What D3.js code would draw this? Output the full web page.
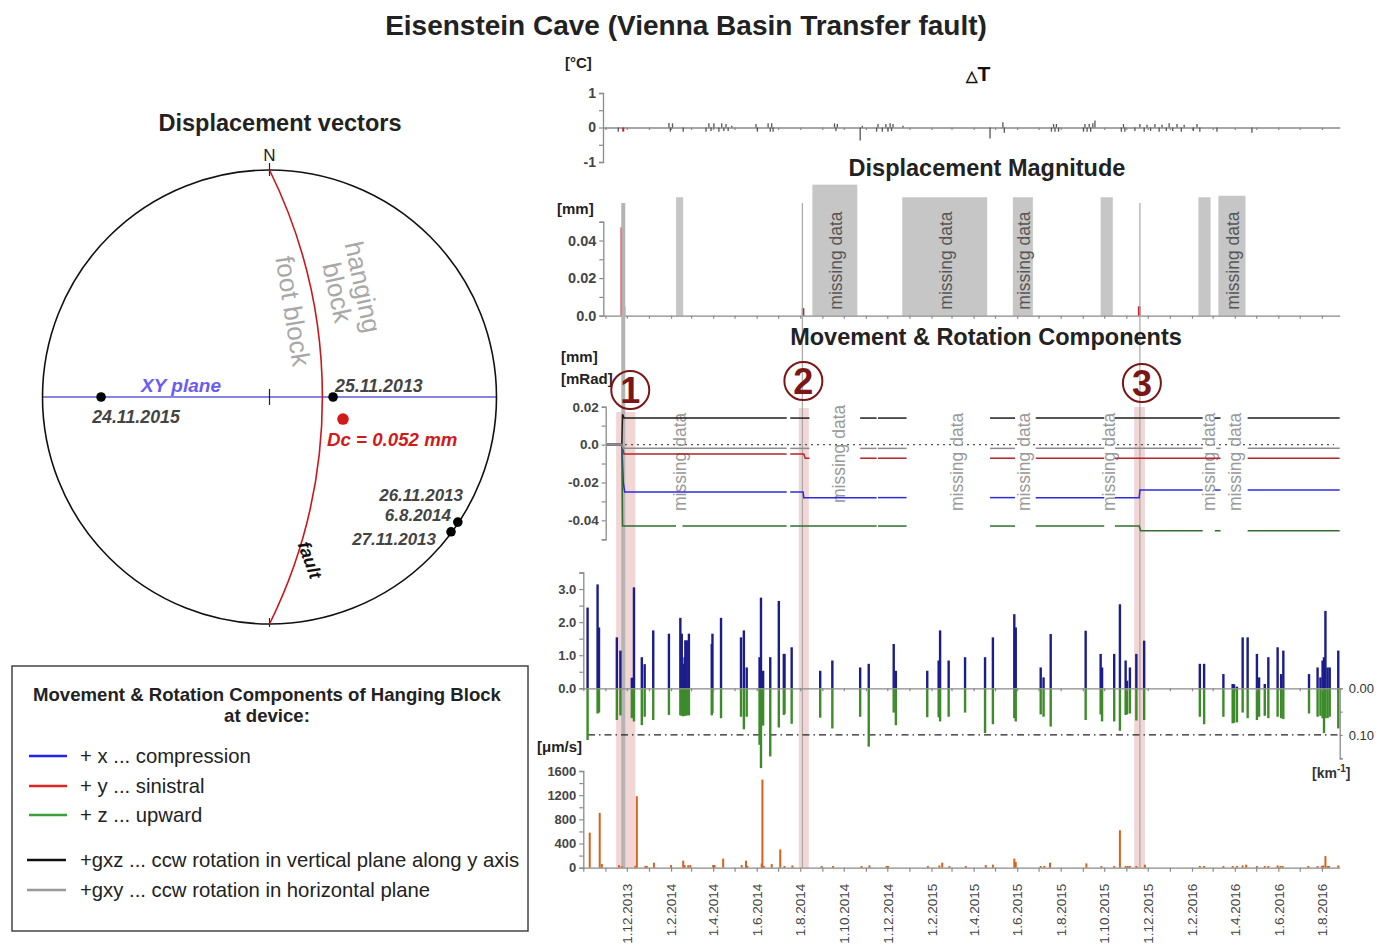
<!DOCTYPE html>
<html><head><meta charset="utf-8">
<script src="https://cdn.jsdelivr.net/npm/d3@7"></script>
<style>body{margin:0;background:#fff}svg{display:block}text{font-family:"Liberation Sans",Arial,Helvetica,sans-serif}</style>
</head><body><svg id="c" width="1384" height="945"></svg>
<script>
// ---------------- DATA ----------------
const timeDomain = ["2013-10-01", "2016-08-26"];

// Temperature change spikes (deg C)
const dtDates = ["2013-11-19","2014-01-29","2014-01-31","2014-02-03","2014-02-18","2014-03-22","2014-03-26","2014-03-29","2014-04-02","2014-04-09","2014-04-13","2014-04-16","2014-04-19","2014-04-22","2014-04-27","2014-05-31","2014-06-02","2014-06-17","2014-06-20","2014-06-22","2014-06-24","2014-09-18","2014-09-20","2014-09-22","2014-10-24","2014-10-27","2014-11-16","2014-11-18","2014-11-24","2014-11-29","2014-12-02","2014-12-05","2014-12-07","2014-12-09","2014-12-23","2015-04-24","2015-05-12","2015-05-14","2015-07-19","2015-07-22","2015-07-24","2015-07-26","2015-07-29","2015-09-02","2015-09-04","2015-09-07","2015-09-10","2015-09-12","2015-09-15","2015-09-18","2015-10-25","2015-10-28","2015-10-30","2015-11-13","2015-11-20","2015-11-26","2015-11-30","2015-12-05","2015-12-11","2015-12-17","2015-12-21","2015-12-27","2015-12-31","2016-01-05","2016-01-11","2016-01-17","2016-01-21","2016-02-03","2016-02-08","2016-02-12","2016-03-07","2016-04-25"];
const dtValues = [-0.12,0.13,-0.12,0.12,-0.12,-0.12,0.12,-0.1,0.12,-0.12,0.12,-0.1,0.1,-0.1,0.05,0.1,-0.12,0.12,-0.12,0.12,-0.12,0.12,-0.1,0.1,-0.38,0.05,-0.12,0.1,-0.12,0.1,-0.12,0.12,-0.1,0.1,0.05,-0.32,0.15,-0.15,-0.12,0.1,-0.12,0.1,-0.12,-0.12,0.1,-0.12,0.1,-0.12,0.12,0.2,-0.12,0.1,-0.12,-0.1,0.1,-0.12,0.08,-0.1,0.1,-0.12,0.08,-0.1,0.12,-0.1,0.1,-0.12,0.08,-0.1,0.1,-0.12,-0.12,-0.15];
const dtRedDates = ["2013-11-26"];
const dtRedValues = [-0.12];

// Displacement magnitude (mm)
const dispDates = ["2013-11-24","2013-11-27","2014-08-05","2015-11-19"];
const dispValues = [0.047, 0.005, 0.004, 0.005];

// Missing data intervals
const gapStart = ["2014-02-08","2014-08-18","2014-12-22","2015-05-26","2015-09-26","2016-02-10","2016-03-09"];
const gapEnd   = ["2014-02-18","2014-10-20","2015-04-20","2015-06-23","2015-10-13","2016-02-27","2016-04-16"];
const gapTop   = [0.063, 0.0697, 0.063, 0.063, 0.063, 0.063, 0.0638];
const gapLabelled = [false, true, true, true, false, false, true];
const movementGapLabelDates = ["2014-02-13","2014-09-24","2015-03-08","2015-06-11","2015-10-08","2016-02-24","2016-04-01"];

// Events
const eventDates = ["2013-11-26","2014-08-04","2015-11-20"];
const eventBandStart = ["2013-11-16","2014-07-30","2015-11-12"];
const eventBandEnd = ["2013-12-13","2014-08-13","2015-11-27"];
const eventLabels = ["1","2","3"];

// Movement & rotation components (mm / mRad), segments between gaps
const seriesGxz = [
  [["2013-11-03",0],["2013-11-24",0],["2013-11-25",0.016],["2013-11-27",0.014],["2014-07-13",0.014]],
  [["2014-07-18",0.014],["2014-08-14",0.014]],
  [["2014-10-24",0.014],["2014-11-16",0.014]],
  [["2014-11-18",0.014],["2014-12-28",0.014]],
  [["2015-04-24",0.014],["2015-05-29",0.014]],
  [["2015-06-27",0.014],["2015-10-01",0.014]],
  [["2015-10-16",0.014],["2016-02-16",0.014]],
  [["2016-03-04",0.014],["2016-03-12",0.014]],
  [["2016-04-19",0.014],["2016-08-26",0.014]]
];
const seriesGxy = [
  [["2013-11-03",0],["2013-11-24",0],["2013-11-26",-0.002],["2014-07-13",-0.002]],
  [["2014-07-18",-0.002],["2014-08-14",-0.002]],
  [["2014-10-24",-0.002],["2014-11-16",-0.002]],
  [["2014-11-18",-0.002],["2014-12-28",-0.002]],
  [["2015-04-24",-0.002],["2015-05-29",-0.002]],
  [["2015-06-27",-0.002],["2015-10-01",-0.002]],
  [["2015-10-16",-0.002],["2016-02-16",-0.002]],
  [["2016-03-06",-0.002],["2016-03-12",-0.002]],
  [["2016-04-19",-0.002],["2016-08-26",-0.002]]
];
const seriesY = [
  [["2013-11-03",0],["2013-11-24",0],["2013-11-27",-0.005],["2014-07-13",-0.005]],
  [["2014-07-18",-0.005],["2014-08-06",-0.005],["2014-08-08",-0.0072],["2014-08-14",-0.0072]],
  [["2014-10-24",-0.0072],["2014-11-16",-0.0072]],
  [["2014-11-18",-0.0072],["2014-12-28",-0.0072]],
  [["2015-04-24",-0.0072],["2015-05-29",-0.0072]],
  [["2015-06-27",-0.0072],["2015-10-01",-0.0072]],
  [["2015-10-16",-0.0072],["2016-03-12",-0.0072]],
  [["2016-04-19",-0.0072],["2016-08-26",-0.0072]]
];
const seriesX = [
  [["2013-11-03",0],["2013-11-24",0],["2013-11-26",-0.02],["2013-11-28",-0.025],["2014-07-13",-0.025]],
  [["2014-07-18",-0.025],["2014-08-05",-0.025],["2014-08-06",-0.028],["2014-11-16",-0.028]],
  [["2014-11-18",-0.028],["2014-12-28",-0.028]],
  [["2015-04-24",-0.028],["2015-05-29",-0.028]],
  [["2015-06-27",-0.028],["2015-10-01",-0.028]],
  [["2015-10-16",-0.028],["2015-11-19",-0.028],["2015-11-20",-0.024],["2016-02-16",-0.024]],
  [["2016-03-04",-0.024],["2016-03-12",-0.024]],
  [["2016-04-19",-0.024],["2016-08-26",-0.024]]
];
const seriesZ = [
  [["2013-11-03",0],["2013-11-24",0],["2013-11-25",-0.043],["2014-02-08",-0.043]],
  [["2014-02-17",-0.043],["2014-07-13",-0.043]],
  [["2014-07-18",-0.043],["2014-11-16",-0.043]],
  [["2014-11-18",-0.043],["2014-12-28",-0.043]],
  [["2015-04-24",-0.043],["2015-05-29",-0.043]],
  [["2015-06-27",-0.043],["2015-10-01",-0.043]],
  [["2015-10-16",-0.043],["2015-11-19",-0.043],["2015-11-21",-0.0455],["2016-02-16",-0.0455]],
  [["2016-03-04",-0.0455],["2016-03-12",-0.0455]],
  [["2016-04-19",-0.0455],["2016-08-26",-0.0455]]
];

// Earthquakes: magnitude (up) and inverse distance km^-1 (down)
const eqDates = ["2013-10-07","2013-10-21","2013-10-23","2013-11-17","2013-11-22","2013-12-08","2013-12-11","2013-12-22","2013-12-26","2014-01-07","2014-01-29","2014-02-14","2014-02-16","2014-02-18","2014-02-20","2014-02-21","2014-02-23","2014-02-26","2014-03-30","2014-03-31","2014-04-12","2014-05-10","2014-05-14","2014-05-18","2014-06-05","2014-06-07","2014-06-10","2014-06-20","2014-07-02","2014-07-09","2014-07-10","2014-07-20","2014-08-29","2014-09-15","2014-10-24","2014-11-05","2014-12-10","2014-12-13","2015-01-26","2015-02-11","2015-02-13","2015-02-25","2015-03-20","2015-04-17","2015-04-28","2015-05-28","2015-05-30","2015-07-04","2015-07-08","2015-07-18","2015-09-05","2015-09-26","2015-09-28","2015-10-15","2015-10-23","2015-10-31","2015-11-02","2015-11-06","2015-11-15","2015-11-26","2016-02-12","2016-02-18","2016-03-16","2016-03-29","2016-03-31","2016-04-04","2016-04-12","2016-04-19","2016-05-02","2016-05-05","2016-05-13","2016-05-18","2016-05-31","2016-06-05","2016-06-08","2016-07-14","2016-07-26","2016-07-30","2016-08-02","2016-08-04","2016-08-06","2016-08-09","2016-08-12","2016-08-24"];
const eqMagnitude = [2.44,3.14,1.84,1.54,1.14,0.32,3.05,0.94,0.73,1.75,1.65,2.13,1.65,0.74,0.94,1.45,1.45,1.65,1.34,1.65,2.13,1.54,1.75,0.63,0.94,2.74,0.53,0.94,2.64,1.04,1.04,1.24,0.53,0.84,0.63,0.74,1.34,0.53,0.53,0.84,1.75,0.84,0.94,0.94,1.54,2.24,1.84,0.63,0.33,1.64,1.74,1.04,0.63,1.04,2.54,0.84,0.23,0.63,1.04,1.44,0.74,0.74,0.43,0.13,0.12,0.05,1.54,1.54,1.04,0.33,0.13,0.94,1.24,0.43,1.14,0.43,0.63,0.33,0.84,0.94,2.34,0.63,0.63,1.14];
const eqInvDistance = [0.111,0.054,0.052,0.068,0.058,0.064,0.071,0.079,0.061,0.068,0.057,0.058,0.059,0.060,0.058,0.059,0.058,0.058,0.058,0.053,0.064,0.061,0.088,0.061,0.121,0.171,0.080,0.146,0.084,0.057,0.055,0.076,0.063,0.086,0.061,0.125,0.052,0.079,0.062,0.062,0.071,0.061,0.052,0.096,0.077,0.064,0.071,0.056,0.061,0.082,0.068,0.056,0.071,0.071,0.091,0.057,0.056,0.054,0.069,0.068,0.061,0.077,0.061,0.075,0.074,0.073,0.052,0.064,0.068,0.061,0.059,0.064,0.061,0.064,0.066,0.054,0.061,0.059,0.064,0.096,0.064,0.064,0.061,0.086];

// Ground velocity (um/s)
const velDates = ["2013-10-10","2013-10-24","2013-10-27","2013-11-20","2013-11-24","2013-12-13","2013-12-15","2013-12-27","2013-12-29","2014-01-08","2014-02-01","2014-02-18","2014-02-20","2014-02-25","2014-02-28","2014-04-01","2014-04-03","2014-04-15","2014-05-11","2014-05-17","2014-05-19","2014-06-08","2014-06-09","2014-06-11","2014-06-22","2014-07-04","2014-07-10","2014-07-21","2014-08-31","2014-09-16","2014-10-26","2014-11-06","2014-11-30","2014-12-02","2015-01-27","2015-02-12","2015-02-16","2015-02-26","2015-03-21","2015-04-18","2015-04-28","2015-05-28","2015-05-30","2015-07-04","2015-07-09","2015-07-17","2015-09-06","2015-09-27","2015-10-15","2015-10-23","2015-10-31","2015-11-03","2015-11-06","2015-11-15","2015-11-27","2016-02-12","2016-02-18","2016-03-16","2016-03-29","2016-04-04","2016-04-12","2016-04-17","2016-05-02","2016-05-13","2016-05-18","2016-05-31","2016-06-04","2016-06-07","2016-07-13","2016-07-26","2016-08-01","2016-08-03","2016-08-06","2016-08-09","2016-08-11","2016-08-24"];
const velValues = [580,908,60,44,25,30,1183,30,30,83,44,116,44,40,44,44,44,150,44,116,28,70,1458,28,60,303,28,38,28,28,28,38,28,28,28,38,83,28,28,44,50,150,94,28,28,83,72,28,28,620,28,28,28,28,50,28,28,28,28,28,38,50,28,28,28,38,28,28,28,28,28,38,192,28,28,38];

// Stereonet (azimuth deg, projected radius fraction)
const stereoLabels = ["24.11.2015","25.11.2013","26.11.2013 / 6.8.2014","27.11.2013"];
const stereoAzimuth = [270, 90, 123.6, 126.6];
const stereoRadius = [0.742, 0.28, 0.996, 0.996];
const dcAzimuth = 106.7, dcRadius = 0.338, dcValue = "0.052";
const faultBulge = 0.233;

// Legend
const legendLabels = ["+ x ... compression","+ y ... sinistral","+ z ... upward","+gxz ... ccw rotation in vertical plane along y axis","+gxy ... ccw rotation in horizontal plane"];
const legendColors = ["#2323f0","#e02424","#3aa03a","#111111","#999999"];

// ---------------- DRAW ----------------
const P = d3.timeParse("%Y-%m-%d");
const svg = d3.select("#c");
const FONT = '"Liberation Sans",Arial,Helvetica,sans-serif';
const x = d3.scaleTime().domain(timeDomain.map(P)).range([583.3, 1339.7]);
const xEnd = x.range()[1];
const xFrom = px => x.copy().domain([x.invert(px), x.domain()[1]]).range([px, xEnd]);

const yT = d3.scaleLinear().domain([-1, 1]).range([162, 93]);
const yD = d3.scaleLinear().domain([0, 0.05]).range([315.7, 221.7]);
const yM = d3.scaleLinear().domain([-0.05, 0.02]).range([539.3, 406.7]);
const yE = d3.scaleLinear().domain([0, 3.5]).range([688.3, 572.5]);
const yI = d3.scaleLinear().domain([0, 0.15]).range([688.3, 758.3]);
const yV = d3.scaleLinear().domain([0, 1600]).range([867.7, 771]);

const minus = s => s.replace("\u2212", "-");

function styleAxis(g, size, weight, color) {
  g.select(".domain").attr("stroke", "#8a8a8a").attr("stroke-width", 1.3);
  g.selectAll(".tick line").attr("stroke", "#8a8a8a").attr("stroke-width", 1.2);
  g.selectAll(".tick text").attr("font-family", FONT).attr("font-size", size)
    .attr("font-weight", weight || "bold").attr("fill", color || "#454545");
}

// Titles
svg.append("text").attr("x", 686).attr("y", 35).attr("text-anchor", "middle")
  .attr("font-size", 28).attr("font-weight", "bold").attr("fill", "#222")
  .text("Eisenstein Cave (Vienna Basin Transfer fault)");

// ----- Delta T panel -----
svg.append("text").attr("x", 565).attr("y", 68).attr("font-size", 15).attr("font-weight", "bold").attr("fill", "#222").text("[°C]");
const dtT = svg.append("text").attr("x", 978).attr("y", 81).attr("text-anchor", "middle").attr("font-weight", "bold").attr("fill", "#111");
dtT.append("tspan").attr("font-size", 15).text("△");
dtT.append("tspan").attr("font-size", 21).text("T");

const gT = svg.append("g");
gT.append("g").attr("transform", `translate(0,${yT(0)})`)
  .call(d3.axisBottom(xFrom(603)).ticks(d3.timeMonth.every(1)).tickSize(2.5).tickSizeOuter(0).tickFormat(""))
  .call(g => styleAxis(g, 12));
gT.selectAll("line.dt").data(dtDates).join("line").attr("class", "dt")
  .attr("x1", d => x(P(d))).attr("x2", d => x(P(d)))
  .attr("y1", yT(0)).attr("y2", (d, i) => yT(dtValues[i]))
  .attr("stroke", "#555").attr("stroke-width", 1.3);
gT.selectAll("line.dtr").data(dtRedDates).join("line").attr("class", "dtr")
  .attr("x1", d => x(P(d))).attr("x2", d => x(P(d)))
  .attr("y1", yT(0)).attr("y2", (d, i) => yT(dtRedValues[i]))
  .attr("stroke", "#d42020").attr("stroke-width", 2);
gT.append("g").attr("transform", "translate(603,0)")
  .call(d3.axisLeft(yT).tickValues([-1, -0.5, 0, 0.5, 1]).tickSize(4)
    .tickFormat(d => Number.isInteger(d) ? minus(d3.format("d")(d)) : ""))
  .call(g => styleAxis(g, 14));

// ----- Displacement magnitude panel -----
svg.append("text").attr("x", 987).attr("y", 176).attr("text-anchor", "middle")
  .attr("font-size", 23.5).attr("font-weight", "bold").attr("fill", "#222").text("Displacement Magnitude");
svg.append("text").attr("x", 557).attr("y", 214).attr("font-size", 15).attr("font-weight", "bold").attr("fill", "#222").text("[mm]");

const gD = svg.append("g");
gD.selectAll("rect.gap").data(gapStart).join("rect").attr("class", "gap")
  .attr("x", d => x(P(d))).attr("width", (d, i) => x(P(gapEnd[i])) - x(P(d)))
  .attr("y", (d, i) => yD(gapTop[i])).attr("height", (d, i) => yD(0) - yD(gapTop[i]))
  .attr("fill", "#c6c6c6");
gD.selectAll("text.gap").data(gapStart.filter((d, i) => gapLabelled[i])).join("text").attr("class", "gap")
  .attr("transform", d => {
    const i = gapStart.indexOf(d);
    const cx = (x(P(d)) + x(P(gapEnd[i]))) / 2;
    return `translate(${cx + 1},${yD(0) - 6}) rotate(-90)`;
  })
  .attr("dy", "0.35em").attr("font-size", 17.5).attr("fill", "#555").text("missing data");

// event lines (full height)
const gEv = svg.append("g");
gEv.selectAll("line").data(eventDates).join("line")
  .attr("x1", d => x(P(d))).attr("x2", d => x(P(d)))
  .attr("y1", 203).attr("y2", yV(0))
  .attr("stroke", (d, i) => i === 0 ? "#b4b4b4" : "#a8a8a8")
  .attr("stroke-width", (d, i) => i === 0 ? 4 : 1.2);

gD.append("g").attr("transform", `translate(0,${yD(0)})`)
  .call(d3.axisBottom(xFrom(603.3)).ticks(d3.timeMonth.every(1)).tickSize(3).tickSizeOuter(0).tickFormat(""))
  .call(g => styleAxis(g, 12));
gD.selectAll("rect.disp").data(dispDates).join("rect").attr("class", "disp")
  .attr("x", d => x(P(d)) - 1.3).attr("width", 2.6)
  .attr("y", (d, i) => yD(dispValues[i])).attr("height", (d, i) => yD(0) - yD(dispValues[i]))
  .attr("fill", "#c0282c");
gD.append("g").attr("transform", "translate(603.3,0)")
  .call(d3.axisLeft(yD).tickValues([0, 0.01, 0.02, 0.03, 0.04, 0.05]).tickSize(4)
    .tickFormat(d => d === 0 ? "0.0" : (Math.round(d * 100) % 2 === 0 ? d3.format(".2f")(d) : "")))
  .call(g => styleAxis(g, 14.5));

// ----- Movement & Rotation panel -----
const gB = svg.append("g");
gB.selectAll("rect").data(eventBandStart).join("rect")
  .attr("x", d => x(P(d))).attr("width", (d, i) => x(P(eventBandEnd[i])) - x(P(d)))
  .attr("y", (d, i) => [412, 408, 407][i]).attr("height", (d, i) => yV(0) - [412, 408, 407][i])
  .attr("fill", "#e8b4b4").attr("opacity", 0.55);
gEv.raise();

svg.append("text").attr("x", 986).attr("y", 345).attr("text-anchor", "middle")
  .attr("font-size", 23.5).attr("font-weight", "bold").attr("fill", "#222").text("Movement & Rotation Components");
svg.append("text").attr("x", 561).attr("y", 362).attr("font-size", 15).attr("font-weight", "bold").attr("fill", "#222").text("[mm]");
svg.append("text").attr("x", 561).attr("y", 384).attr("font-size", 15).attr("font-weight", "bold").attr("fill", "#222").text("[mRad]");

const gM = svg.append("g");
gM.append("line").attr("x1", 607).attr("x2", 1334).attr("y1", yM(0)).attr("y2", yM(0))
  .attr("stroke", "#555").attr("stroke-width", 1.2).attr("stroke-dasharray", "2,4");
gM.selectAll("text.mgap").data(movementGapLabelDates).join("text").attr("class", "mgap")
  .attr("transform", (d, i) => `translate(${x(P(d))},${i === 1 ? 503 : 511}) rotate(-90)`)
  .attr("dy", "0.35em").attr("font-size", 17.5).attr("fill", "#999").text("missing data");

const line = d3.line().x(d => x(P(d[0]))).y(d => yM(d[1]));
[[seriesGxz, "#1e1e1e"], [seriesY, "#b3262b"], [seriesX, "#2b2be0"], [seriesZ, "#2f6f2f"], [seriesGxy, "#8c8c8c"]]
  .forEach(([segs, col]) => {
    gM.append("g").selectAll("path").data(segs).join("path")
      .attr("d", line).attr("fill", "none").attr("stroke", col).attr("stroke-width", 1.5);
  });
gM.append("g").attr("transform", "translate(605.7,0)")
  .call(d3.axisLeft(yM).tickValues([-0.05, -0.04, -0.03, -0.02, -0.01, 0, 0.01, 0.02]).tickSize(4)
    .tickFormat(d => {
      const k = Math.round(d * 100);
      if (k === 0) return "0.0";
      return k % 2 === 0 ? minus(d3.format(".2f")(d)) : "";
    }))
  .call(g => styleAxis(g, 13.5));

// circled event numbers
const circX = [7, 1, 2], circY = [390, 381, 383];
const gC = svg.append("g");
eventDates.forEach((d, i) => {
  const cx = x(P(d)) + circX[i];
  gC.append("circle").attr("cx", cx).attr("cy", circY[i]).attr("r", 19)
    .attr("fill", "none").attr("stroke", "#7a1616").attr("stroke-width", 2);
  gC.append("text").attr("x", cx).attr("y", circY[i] + 13).attr("text-anchor", "middle")
    .attr("font-size", 36).attr("font-weight", "bold").attr("fill", "#7a1616").text(eventLabels[i]);
});

// ----- Earthquake panel -----
const gE = svg.append("g");
gE.append("line").attr("x1", 588).attr("x2", xEnd).attr("y1", yI(0.1)).attr("y2", yI(0.1))
  .attr("stroke", "#222").attr("stroke-width", 1.2).attr("stroke-dasharray", "7,4,1.5,4");
gE.selectAll("rect.mag").data(eqDates).join("rect").attr("class", "mag")
  .attr("x", d => x(P(d)) - 1.2).attr("width", 2.4)
  .attr("y", (d, i) => yE(eqMagnitude[i])).attr("height", (d, i) => yE(0) - yE(eqMagnitude[i]))
  .attr("fill", "#1b1d8a");
gE.selectAll("rect.inv").data(eqDates).join("rect").attr("class", "inv")
  .attr("x", d => x(P(d)) - 1.2).attr("width", 2.4)
  .attr("y", yI(0)).attr("height", (d, i) => yI(eqInvDistance[i]) - yI(0))
  .attr("fill", "#3d8b2b");
gE.append("g").attr("transform", `translate(0,${yE(0)})`)
  .call(d3.axisBottom(x).ticks(d3.timeMonth.every(1)).tickSize(3).tickSizeOuter(0).tickFormat(""))
  .call(g => styleAxis(g, 12));
gE.append("g").attr("transform", "translate(583.3,0)")
  .call(d3.axisLeft(yE).tickValues([0, 0.5, 1, 1.5, 2, 2.5, 3, 3.5]).tickSize(4)
    .tickFormat(d => Number.isInteger(d) ? d3.format(".1f")(d) : ""))
  .call(g => styleAxis(g, 13));
gE.append("g").attr("transform", `translate(${xEnd},0)`)
  .call(d3.axisRight(yI).tickValues([0, 0.05, 0.1, 0.15]).tickSize(3).tickPadding(6)
    .tickFormat(d => (d === 0 || d === 0.1) ? d3.format(".2f")(d) : ""))
  .call(g => styleAxis(g, 13, "normal", "#333"));
const km = svg.append("text").attr("x", 1312).attr("y", 778).attr("font-size", 14).attr("font-weight", "bold").attr("fill", "#333");
km.append("tspan").text("[km");
km.append("tspan").attr("dy", -6).attr("font-size", 10).text("-1");
km.append("tspan").attr("dy", 6).text("]");

// ----- Velocity panel -----
svg.append("text").attr("x", 537).attr("y", 752).attr("font-size", 15).attr("font-weight", "bold").attr("fill", "#222").text("[μm/s]");
const gV = svg.append("g");
gV.selectAll("rect").data(velDates).join("rect")
  .attr("x", d => x(P(d)) - 1).attr("width", 2)
  .attr("y", (d, i) => yV(velValues[i])).attr("height", (d, i) => yV(0) - yV(velValues[i]))
  .attr("fill", "#d8621c");
const fmtDate = d3.timeFormat("%-d.%-m.%Y");
const firstTick = x.domain()[0];
gV.append("g").attr("transform", `translate(0,${yV(0)})`)
  .call(d3.axisBottom(x).ticks(d3.timeMonth.every(1)).tickSize(4).tickSizeOuter(0)
    .tickFormat(d => (d.getMonth() % 2 === 1 && +d !== +firstTick) ? fmtDate(d) : ""))
  .call(g => styleAxis(g, 13.5, "normal", "#444"))
  .call(g => g.selectAll(".tick text").attr("transform", "rotate(-90)")
    .attr("x", -16).attr("y", 0).attr("dy", "0.35em").attr("text-anchor", "end"));
gV.append("g").attr("transform", "translate(583.3,0)")
  .call(d3.axisLeft(yV).tickValues(d3.range(0, 1601, 200)).tickSize(4)
    .tickFormat(d => d % 400 === 0 ? d3.format("d")(d) : ""))
  .call(g => styleAxis(g, 13));

// ----- Stereonet -----
const sc = { cx: 269.5, cy: 397, R: 227 };
const proj = (az, r) => { const a = az * Math.PI / 180; return [sc.cx + r * sc.R * Math.sin(a), sc.cy - r * sc.R * Math.cos(a)]; };
const gS = svg.append("g");
svg.append("text").attr("x", 280).attr("y", 131).attr("text-anchor", "middle")
  .attr("font-size", 23.5).attr("font-weight", "bold").attr("fill", "#222").text("Displacement vectors");
gS.append("line").attr("x1", sc.cx - sc.R).attr("x2", sc.cx + sc.R).attr("y1", sc.cy).attr("y2", sc.cy)
  .attr("stroke", "#5c5cd8").attr("stroke-width", 1.3);
gS.append("circle").attr("cx", sc.cx).attr("cy", sc.cy).attr("r", sc.R)
  .attr("fill", "none").attr("stroke", "#111").attr("stroke-width", 1.6);
gS.append("line").attr("x1", sc.cx).attr("x2", sc.cx).attr("y1", sc.cy - 8).attr("y2", sc.cy + 8).attr("stroke", "#222").attr("stroke-width", 1.2);
gS.append("line").attr("x1", sc.cx).attr("x2", sc.cx).attr("y1", sc.cy - sc.R - 7).attr("y2", sc.cy - sc.R + 6).attr("stroke", "#222").attr("stroke-width", 1.2);
gS.append("line").attr("x1", sc.cx).attr("x2", sc.cx).attr("y1", sc.cy + sc.R - 6).attr("y2", sc.cy + sc.R + 3).attr("stroke", "#222").attr("stroke-width", 1.2);
gS.append("text").attr("x", sc.cx).attr("y", sc.cy - sc.R - 9).attr("text-anchor", "middle").attr("font-size", 17).attr("fill", "#222").text("N");
// fault great circle
{
  const b = faultBulge * sc.R;
  const off = (b * b - sc.R * sc.R) / (2 * b);
  const rr = b - off;
  gS.append("path").attr("d", `M${sc.cx},${sc.cy - sc.R} A${rr},${rr} 0 0 1 ${sc.cx},${sc.cy + sc.R}`)
    .attr("fill", "none").attr("stroke", "#c8181c").attr("stroke-width", 1.6);
}
gS.append("text").attr("transform", "translate(293,311) rotate(81)").attr("text-anchor", "middle").attr("dy", "0.35em")
  .attr("font-size", 26).attr("fill", "#a8a8a8").text("foot block");
const hb = gS.append("text").attr("transform", "translate(349,290) rotate(78)").attr("text-anchor", "middle")
  .attr("font-size", 26).attr("fill", "#a8a8a8");
hb.append("tspan").attr("x", 0).attr("dy", "-0.2em").text("hanging");
hb.append("tspan").attr("x", 0).attr("dy", "1.0em").text("block");
gS.append("text").attr("transform", "translate(310,560) rotate(70)").attr("text-anchor", "middle").attr("dy", "0.35em")
  .attr("font-size", 18).attr("font-style", "italic").attr("font-weight", "bold").attr("fill", "#111").text("fault");
gS.append("text").attr("x", 181).attr("y", 392).attr("text-anchor", "middle")
  .attr("font-size", 19).attr("font-style", "italic").attr("font-weight", "bold").attr("fill", "#6a5cf2").text("XY plane");

stereoAzimuth.forEach((az, i) => {
  const [px, py] = proj(az, stereoRadius[i]);
  gS.append("circle").attr("cx", px).attr("cy", py).attr("r", 4.8).attr("fill", "#000");
});
const lab = (t, xx, yy, anchor, fs) => gS.append("text").attr("x", xx).attr("y", yy).attr("text-anchor", anchor)
  .attr("font-size", fs || 17.8).attr("font-style", "italic").attr("font-weight", "bold").attr("fill", "#444").text(t);
lab(stereoLabels[0], 136, 423, "middle");
lab(stereoLabels[1], 335, 392, "start");
const parts = stereoLabels[2].split(" / ");
lab(parts[0], 463, 501, "end", 17);
lab(parts[1], 451, 521, "end", 17);
lab(stereoLabels[3], 436, 545, "end", 17);
{
  const [px, py] = proj(dcAzimuth, dcRadius);
  gS.append("circle").attr("cx", px).attr("cy", py).attr("r", 5.8).attr("fill", "#d21a1a");
  gS.append("text").attr("x", 327).attr("y", 446).attr("font-size", 18.7).attr("font-style", "italic")
    .attr("font-weight", "bold").attr("fill", "#d21a1a").text(`Dc = ${dcValue} mm`);
}

// ----- Legend -----
const gL = svg.append("g");
gL.append("rect").attr("x", 12).attr("y", 666).attr("width", 516).attr("height", 265)
  .attr("fill", "none").attr("stroke", "#444").attr("stroke-width", 1.5);
gL.append("text").attr("x", 267).attr("y", 701).attr("text-anchor", "middle").attr("font-size", 18.6)
  .attr("font-weight", "bold").attr("fill", "#222").text("Movement & Rotation Components of Hanging Block");
gL.append("text").attr("x", 267).attr("y", 722).attr("text-anchor", "middle").attr("font-size", 18.6)
  .attr("font-weight", "bold").attr("fill", "#222").text("at device:");
const legY = [756, 786, 815, 860, 890];
legendLabels.forEach((t, i) => {
  gL.append("line").attr("x1", i < 3 ? 29 : 27).attr("x2", i < 3 ? 67 : 66).attr("y1", legY[i]).attr("y2", legY[i])
    .attr("stroke", legendColors[i]).attr("stroke-width", 2.5);
  gL.append("text").attr("x", 80).attr("y", legY[i] + 7).attr("font-size", 20.3).attr("fill", "#222").text(t);
});
</script></body></html>
